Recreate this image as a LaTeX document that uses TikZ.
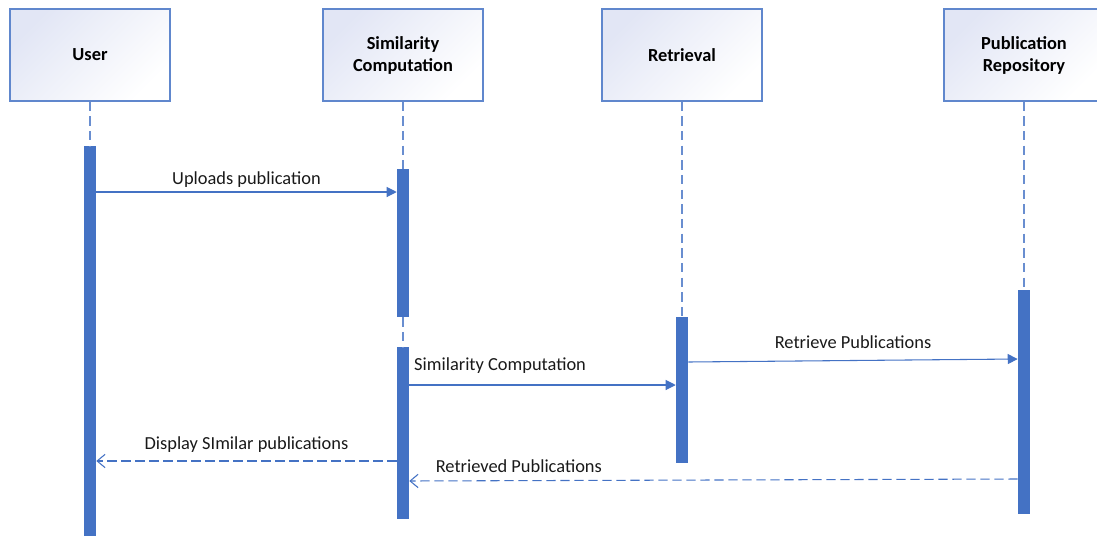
\documentclass[tikz,border=0pt]{standalone}
\usepackage{fontspec}
\setmainfont{Carlito}
\usetikzlibrary{arrows.meta}
\definecolor{seqblue}{HTML}{4472C4}
\definecolor{headtint}{HTML}{E2E6F5}

\begin{document}
\begin{tikzpicture}[x=0.75pt, y=-0.75pt,
    head/.style={draw=seqblue!85, line width=0.8pt, top color=headtint, bottom color=white, shading angle=45, minimum width=120pt, minimum height=69pt, align=center, font=\fontsize{13.8}{16.5}\selectfont\bfseries},
    bar/.style={fill=seqblue, draw=none, minimum width=9pt, inner sep=0pt},
    life/.style={seqblue!80, line width=0.8pt, dash pattern=on 7pt off 4pt},
    msg/.style={seqblue, line width=0.8pt, -{Triangle[length=7.5pt,width=7.5pt]}},
    reply/.style={seqblue, line width=0.8pt, dash pattern=on 7pt off 3.5pt, -{Straight Barb[length=6pt,width=10pt]}},
    txt/.style={font=\fontsize{13.8}{16}\selectfont, text=black!90}
]
        \useasboundingbox (0,0) rectangle (1097,536);
        \clip (0,0) rectangle (1097,536);

        % Lifeline heads
        \node[head] (user) at (90, 55) {User};
        \node[head] (simc) at (403, 55) {Similarity\\Computation};
        \node[head] (retr) at (682, 55) {Retrieval};
        \node[head] (repo) at (1024, 55) {Publication\\Repository};

        % Activation bars
        \node[bar, minimum height=292.5pt] (userbar) at (90, 341) {};
        \node[bar, minimum height=111pt] (simbar1) at (403, 243) {};
        \node[bar, minimum height=129pt] (simbar2) at (403, 433) {};
        \node[bar, minimum height=109.5pt] (retrbar) at (682, 390) {};
        \node[bar, minimum height=168pt] (repobar) at (1024, 402) {};

        % Lifelines
        \draw[life] (user) -- (userbar);
        \draw[life] (simc) -- (simbar1);
        \draw[life] (simbar1) -- (simbar2);
        \draw[life] (retr) -- (retrbar);
        \draw[life] (repo) -- (repobar);

        % Messages
        \draw[msg] (userbar.east |- 0,192) -- node[txt, above] (upl) {Uploads publication} (simbar1.west |- 0,192);
        \draw[msg] (simbar2.east |- 0,385) -- node[txt, above right, pos=0, yshift=5pt] (sim) {Similarity Computation} (retrbar.west |- 0,385);
        \draw[msg] (retrbar.east |- 0,362) -- node[txt, above, yshift=5pt] (ret) {Retrieve Publications} (repobar.west |- 0,359);

        % Replies
        \draw[reply] (simbar2.west |- 0,461) -- node[txt, above, yshift=2.5pt] (disp) {Display SImilar publications} (userbar.east |- 0,461);
        \draw[reply] (repobar.west |- 0,479) -- node[txt, above, pos=0.82, yshift=2.5pt] (back) {Retrieved Publications} (simbar2.east |- 0,481);
\end{tikzpicture}
\end{document}
